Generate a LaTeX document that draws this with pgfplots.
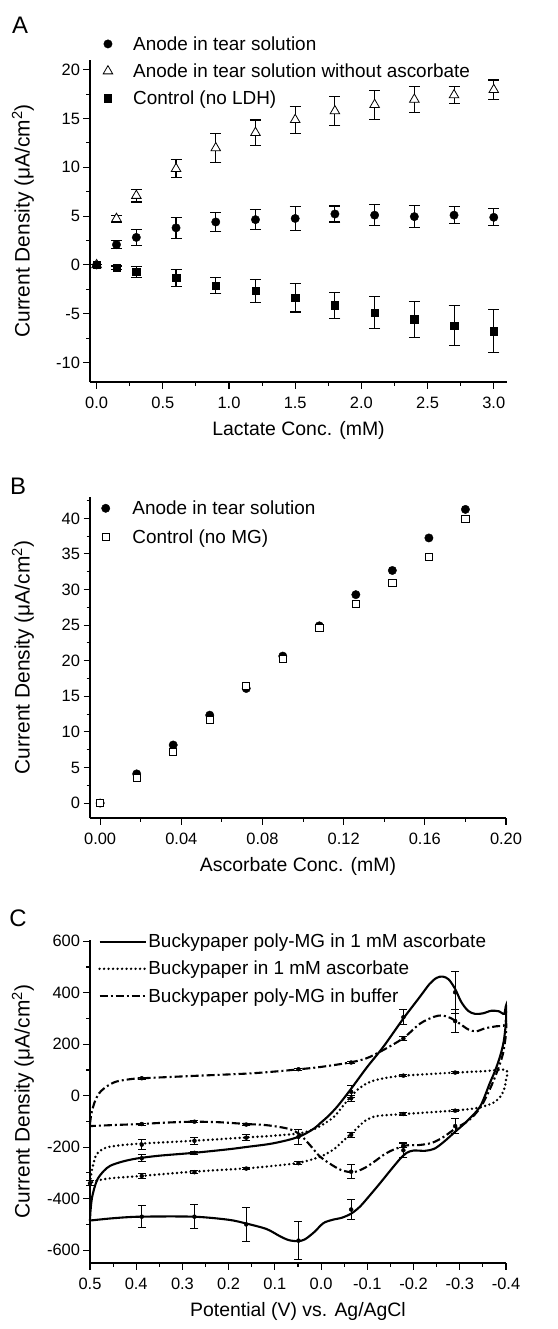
\documentclass[border=0pt]{standalone}
\usepackage{fontspec}
\setmainfont{Liberation Sans}
\usepackage{pgfplots}
\pgfplotsset{compat=1.18}
\begin{document}
\begin{tikzpicture}
\useasboundingbox (0bp,0bp) rectangle (558bp,-1329bp);
\pgfplotsset{
  base/.style={
    scale only axis,
    axis x line*=bottom, axis y line*=left,
    tick align=outside,
    axis line style={line width=1.2bp},
    tick style={line width=1.1bp, black},
    major tick length=6.5bp, minor tick length=3.5bp,
    tick label style={font=\fontsize{16.5}{18}\selectfont},
    xticklabel style={yshift=-5bp},
    every axis x label/.style={at={(axis description cs:0.5,-0.15)}, anchor=center, font=\fontsize{19.5}{21}\selectfont},
    every axis y label/.style={at={(axis description cs:-0.161,0.5)}, anchor=center, rotate=90, font=\fontsize{21}{23}\selectfont},
    legend cell align=left,
    legend style={draw=none, fill=none, font=\fontsize{19}{21}\selectfont, nodes={inner sep=1.5bp}},
    clip=false,
  },
  errA/.style={error bars/.cd, y dir=both, y explicit, error bar style={line width=1.1bp, black}, error mark options={rotate=90, mark size=5.5bp, line width=1.1bp, black}},
  errC/.style={black, only marks, mark=none, forget plot, error bars/.cd, y dir=both, y explicit, error bar style={line width=0.95bp, black}, error mark options={rotate=90, mark size=4bp, line width=0.95bp, black}},
}

% ---------------- Panel A ----------------
\node[font=\fontsize{24}{26}\selectfont] at (20bp,-25bp) {A};
\begin{axis}[base, at={(90bp,-382bp)}, anchor=south west, width=417bp, height=322bp,
  xmin=-0.05, xmax=3.1, ymin=-12, ymax=21,
  xtick={0,0.5,1,1.5,2,2.5,3}, xticklabels={0.0,0.5,1.0,1.5,2.0,2.5,3.0},
  minor xtick={0.25,0.75,1.25,1.75,2.25,2.75},
  ytick={-10,-5,0,5,10,15,20}, yticklabels={-10,-5,0,5,10,15,20},
  minor ytick={-7.5,-2.5,2.5,7.5,12.5,17.5},
  xlabel={Lactate Conc. (mM)}, ylabel={Current Density (μA/cm\textsuperscript{2})},
  legend style={at={(axis description cs:0.024,1.085)}, anchor=north west, row sep=9bp,
    /tikz/every odd column/.append style={column sep=19bp}},
]
\addplot[black, only marks, mark=*, mark size=4.2bp, errA] table[y error=e] {
x y e
0 0 0
0.15 2.08 0.4
0.3 2.82 0.84
0.6 3.8 1.07
0.9 4.4 0.95
1.2 4.64 1.04
1.5 4.76 1.2
1.8 5.22 0.82
2.1 5.1 1.1
2.4 4.95 1.1
2.7 5.1 0.9
3.0 4.88 0.87
};
\addlegendentry{Anode in tear solution}
\addplot[black, only marks, mark=triangle*, mark size=5.5bp, mark options={fill=white, line width=0.8bp}, errA] table[y error=e] {
x y e
0 0 0
0.15 4.74 0.35
0.3 7.1 0.65
0.6 9.86 0.9
0.9 11.98 1.45
1.2 13.55 1.3
1.5 14.88 1.4
1.8 15.77 1.5
2.1 16.42 1.5
2.4 16.96 1.3
2.7 17.41 0.9
3.0 17.95 1.0
};
\addlegendentry{Anode in tear solution without ascorbate}
\addplot[black, only marks, mark=square*, mark size=3.7bp, errA] table[y error=e] {
x y e
0 0 0
0.15 -0.31 0.2
0.3 -0.72 0.6
0.6 -1.33 0.9
0.9 -2.12 0.85
1.2 -2.66 1.2
1.5 -3.38 1.45
1.8 -4.13 1.33
2.1 -4.88 1.6
2.4 -5.56 1.85
2.7 -6.25 2.05
3.0 -6.79 2.2
};
\addlegendentry{Control (no LDH)}
\end{axis}

% ---------------- Panel B ----------------
\node[font=\fontsize{24}{26}\selectfont] at (18bp,-486bp) {B};
\begin{axis}[base, at={(90bp,-818bp)}, anchor=south west, width=416bp, height=321bp,
  xmin=-0.005, xmax=0.2, ymin=-2.1, ymax=43,
  xtick={0,0.04,0.08,0.12,0.16,0.2}, xticklabels={0.00,0.04,0.08,0.12,0.16,0.20},
  minor xtick={0.02,0.06,0.1,0.14,0.18},
  ytick={0,5,10,15,20,25,30,35,40}, yticklabels={0,5,10,15,20,25,30,35,40},
  minor ytick={2.5,7.5,12.5,17.5,22.5,27.5,32.5,37.5,42.5},
  xlabel={Ascorbate Conc. (mM)}, ylabel={Current Density (μA/cm\textsuperscript{2})},
  legend style={at={(axis description cs:0.02,1.0)}, anchor=north west, row sep=10.5bp,
    /tikz/every odd column/.append style={column sep=21bp}},
]
\addplot[black, only marks, mark=*, mark size=4.2bp] table {
x y
0 0
0.018 4.1
0.036 8.16
0.054 12.35
0.072 16.1
0.09 20.65
0.108 24.9
0.126 29.28
0.144 32.68
0.162 37.25
0.18 41.26
};
\addlegendentry{Anode in tear solution}
\addplot[black, only marks, mark=square*, mark size=3.6bp, mark options={fill=white, line width=0.8bp}] table {
x y
0 0
0.018 3.5
0.036 7.23
0.054 11.66
0.072 16.46
0.09 20.28
0.108 24.66
0.126 27.97
0.144 30.96
0.162 34.55
0.18 39.95
};
\addlegendentry{Control (no MG)}
\end{axis}

% ---------------- Panel C ----------------
\node[font=\fontsize{24}{26}\selectfont] at (18bp,-918bp) {C};
\begin{axis}[base, at={(90bp,-1263bp)}, anchor=south west, width=416bp, height=323bp,
  x dir=reverse, xmin=-0.4, xmax=0.5, ymin=-650, ymax=605,
  xtick={-0.4,-0.3,-0.2,-0.1,0,0.1,0.2,0.3,0.4,0.5},
  xticklabels={-0.4,-0.3,-0.2,-0.1,0.0,0.1,0.2,0.3,0.4,0.5},
  minor xtick={-0.35,-0.25,-0.15,-0.05,0.05,0.15,0.25,0.35,0.45},
  ytick={-600,-400,-200,0,200,400,600}, yticklabels={-600,-400,-200,0,200,400,600},
  minor ytick={-500,-300,-100,100,300,500},
  xlabel={Potential (V) vs. Ag/AgCl}, ylabel={Current Density (μA/cm\textsuperscript{2})},
  legend style={at={(axis description cs:0.012,1.03)}, anchor=north west, row sep=9bp},
  legend image code/.code={\draw[#1] (0bp,0bp) -- (46bp,0bp);},
]
\addplot[black, line width=2.1bp, smooth, tension=0.5] coordinates {
(0.5,-485) (0.499,-450) (0.496,-400) (0.49,-355) (0.483,-322) (0.47,-292) (0.456,-272) (0.43,-256) (0.399,-244) (0.35,-233) (0.276,-222) (0.2,-208) (0.161,-199) (0.11,-187) (0.067,-170) (0.04,-153) (0.015,-127) (0.002,-107) (-0.015,-80) (-0.035,-42) (-0.062,20) (-0.099,110) (-0.135,191) (-0.178,300) (-0.214,385) (-0.235,435) (-0.25,458) (-0.263,463) (-0.276,452) (-0.29,415) (-0.303,365) (-0.318,330) (-0.333,318) (-0.35,320) (-0.368,330) (-0.385,328) (-0.396,318) (-0.4,350) (-0.4,290) (-0.395,210) (-0.387,152) (-0.376,95) (-0.365,49) (-0.344,-42) (-0.315,-100) (-0.29,-140) (-0.265,-180) (-0.245,-206) (-0.225,-214) (-0.2,-213) (-0.185,-222) (-0.171,-245) (-0.15,-290) (-0.127,-341) (-0.105,-388) (-0.084,-431) (-0.065,-458) (-0.045,-474) (-0.025,-482) (-0.005,-495) (0.015,-530) (0.035,-558) (0.05,-565) (0.07,-561) (0.09,-545) (0.118,-518) (0.161,-497) (0.2,-482) (0.276,-470) (0.392,-470) (0.45,-476) (0.5,-485)
};
\addlegendentry{Buckypaper poly-MG in 1 mM ascorbate}
\addplot[black, line width=2.7bp, line cap=round, dash pattern=on 0bp off 4.5bp, smooth, tension=0.5] coordinates {
(0.5,-340) (0.497,-300) (0.492,-260) (0.486,-228) (0.47,-205) (0.45,-196) (0.399,-187) (0.276,-175) (0.161,-162) (0.1,-155) (0.046,-146) (0.02,-133) (0.002,-118) (-0.026,-85) (-0.045,-45) (-0.062,-8) (-0.08,25) (-0.099,48) (-0.12,62) (-0.15,72) (-0.178,78) (-0.25,86) (-0.29,90) (-0.35,95) (-0.4,100) (-0.4,60) (-0.395,20) (-0.387,-5) (-0.375,-25) (-0.358,-38) (-0.33,-50) (-0.286,-58) (-0.23,-65) (-0.178,-71) (-0.13,-77) (-0.113,-82) (-0.095,-98) (-0.084,-115) (-0.07,-140) (-0.062,-152) (-0.045,-180) (-0.026,-210) (0.002,-237) (0.046,-260) (0.1,-272) (0.161,-282) (0.276,-295) (0.392,-312) (0.457,-321) (0.49,-332) (0.5,-340)
};
\addlegendentry{Buckypaper in 1 mM ascorbate}
\addplot[black, line width=2.1bp, dash pattern=on 8bp off 3bp on 2bp off 3bp, smooth, tension=0.5] coordinates {
(0.5,-110) (0.497,-70) (0.49,-25) (0.48,10) (0.464,36) (0.443,55) (0.41,65) (0.385,68) (0.276,77) (0.161,86) (0.1,94) (0.046,103) (0.0,112) (-0.062,129) (-0.099,146) (-0.135,178) (-0.178,224) (-0.214,280) (-0.243,306) (-0.262,312) (-0.28,302) (-0.3,280) (-0.318,258) (-0.335,250) (-0.355,262) (-0.38,270) (-0.395,272) (-0.4,290) (-0.4,240) (-0.393,160) (-0.38,90) (-0.365,25) (-0.345,-45) (-0.32,-95) (-0.29,-128) (-0.265,-160) (-0.24,-183) (-0.21,-192) (-0.185,-193) (-0.156,-210) (-0.135,-230) (-0.12,-250) (-0.095,-280) (-0.07,-297) (-0.045,-290) (-0.026,-272) (0.002,-237) (0.025,-190) (0.046,-150) (0.065,-132) (0.082,-124) (0.12,-114) (0.161,-110) (0.22,-103) (0.276,-101) (0.33,-104) (0.392,-110) (0.45,-114) (0.5,-118)
};
\addlegendentry{Buckypaper poly-MG in buffer}
% error bars
\addplot[errC] table[y error=e] {
x y e
0.388 -470 42
0.274 -470 47
0.162 -500 65
0.049 -563 75
-0.065 -442 39
-0.178 -212 27
0.388 -243 13
0.274 -222 6
-0.065 15 23
-0.178 305 30
-0.29 402 81
};
\addplot[errC] table[y error=e] {
x y e
-0.29 290 45
-0.178 222 8
0.049 -160 29
-0.065 -295 26
-0.178 -193 10
-0.29 -118 28
0.388 -110 4
0.274 -101 4
0.162 -112 4
0.388 68 3
0.049 103 4
-0.065 129 4
};
\addplot[errC] table[y error=e] {
x y e
0.388 -190 20
0.274 -175 13
0.162 -163 11
-0.065 -10 12
-0.178 78 4
-0.29 90 4
0.5 -340 10
0.388 -312 10
0.274 -297 6
0.162 -283 5
0.049 -262 6
-0.065 -152 10
-0.178 -71 5
-0.29 -58 5
};
\end{axis}
\end{tikzpicture}
\end{document}
